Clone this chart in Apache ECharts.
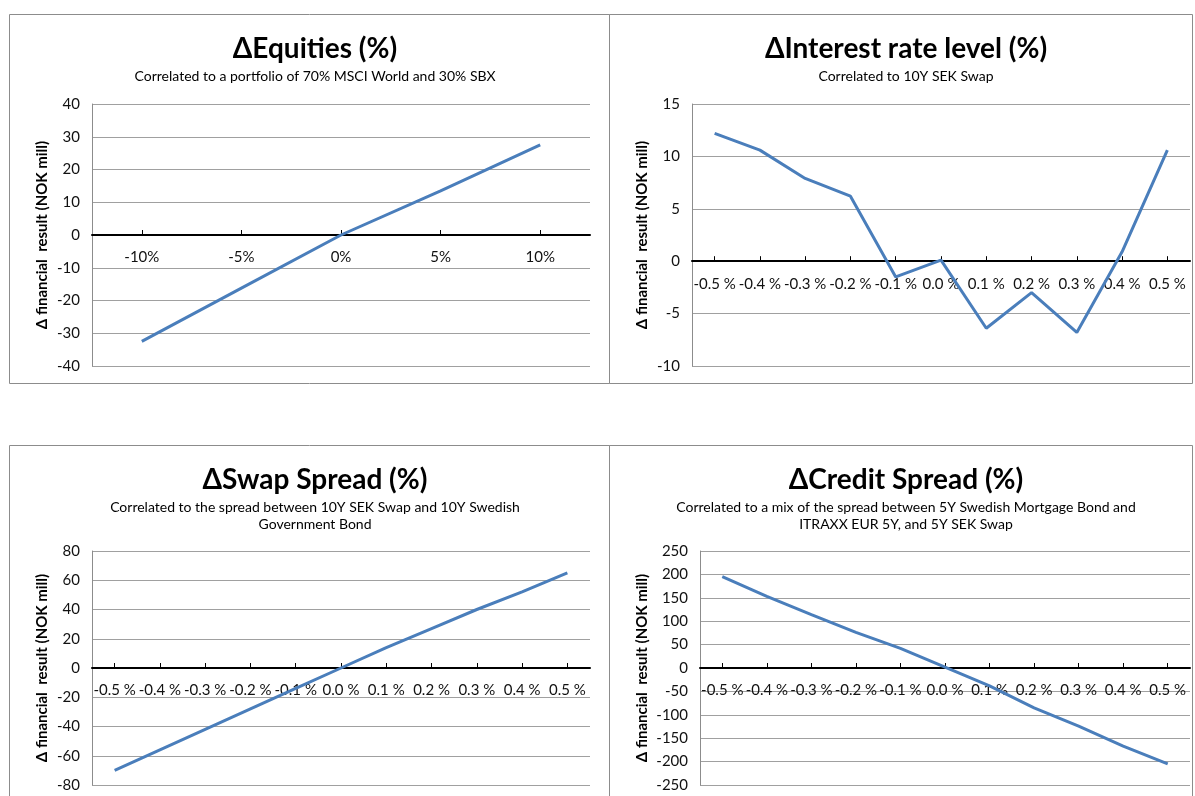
<!DOCTYPE html>
<html><head><meta charset="utf-8">
<script src="https://cdn.jsdelivr.net/npm/echarts@6/dist/echarts.min.js"></script>
<style>html,body{margin:0;padding:0;background:#fff}#c{width:1195px;height:796px}</style>
</head><body><div id="c"></div>
<script>
const equityCats = ['-10%', '-5%', '0%', '5%', '10%'];
const equityVals = [-32.5, -16.2, 0, 13.5, 27.5];

const bpCats = ['-0.5 %', '-0.4 %', '-0.3 %', '-0.2 %', '-0.1 %', '0.0 %', '0.1 %', '0.2 %', '0.3 %', '0.4 %', '0.5 %'];
const rateVals = [12.2, 10.6, 7.9, 6.2, -1.5, 0.1, -6.4, -3.0, -6.8, 0.9, 10.6];
const swapVals = [-70, -56, -42, -28, -14, 0, 14, 27, 40, 52, 65];
const creditVals = [195, 153, 114, 76, 42, 2, -38, -85, -124, -167, -205];

const titles = ['\u0394Equities (%)', '\u0394Interest rate level (%)', '\u0394Swap Spread (%)', '\u0394Credit Spread (%)'];
const subtitles = [
  'Correlated to a portfolio of 70% MSCI World and 30% SBX',
  'Correlated to 10Y SEK Swap',
  'Correlated to the spread between 10Y SEK Swap and 10Y Swedish\nGovernment Bond',
  'Correlated to a mix of the spread between 5Y Swedish Mortgage Bond and\nITRAXX EUR 5Y, and 5Y SEK Swap'
];
const yName = '\u0394 financial  result (NOK mill)';

const FONT = 'Lato';
const grids = [
  {left: 92, top: 104, width: 498, height: 262},
  {left: 692, top: 104, width: 498, height: 262},
  {left: 92, top: 551, width: 498, height: 234},
  {left: 700, top: 551, width: 490, height: 234}
];
const yRanges = [[-40, 40, 10], [-10, 15, 5], [-80, 80, 20], [-250, 250, 50]];
const cats = [equityCats, bpCats, bpCats, bpCats];
const vals = [equityVals, rateVals, swapVals, creditVals];
const titlePos = [[310, 30], [901, 30], [310, 461], [901, 461]];
const nameGaps = [42, 42, 42, 50];

const option = {
  backgroundColor: '#fff',
  animation: false,
  graphic: [
    {type: 'rect', shape: {x: 9.5, y: 14.5, width: 600, height: 369}, style: {fill: 'none', stroke: '#8c8c8c', lineWidth: 1}},
    {type: 'rect', shape: {x: 609.5, y: 14.5, width: 583, height: 369}, style: {fill: 'none', stroke: '#8c8c8c', lineWidth: 1}},
    {type: 'rect', shape: {x: 9.5, y: 445.5, width: 600, height: 400}, style: {fill: 'none', stroke: '#8c8c8c', lineWidth: 1}},
    {type: 'rect', shape: {x: 609.5, y: 445.5, width: 583, height: 400}, style: {fill: 'none', stroke: '#8c8c8c', lineWidth: 1}}
  ],
  title: titles.map((t, i) => ({
    text: t,
    subtext: subtitles[i],
    left: titlePos[i][0],
    top: titlePos[i][1],
    textAlign: 'center',
    itemGap: 5,
    textStyle: {fontFamily: FONT, fontWeight: 'bold', fontSize: 28, color: '#000'},
    subtextStyle: {fontFamily: FONT, fontSize: 14, color: '#000', lineHeight: 17, align: 'center'}
  })),
  grid: grids.map(g => Object.assign({containLabel: false}, g)),
  xAxis: cats.map((c, i) => ({
    type: 'category',
    gridIndex: i,
    data: c,
    boundaryGap: true,
    offset: -grids[i].height * (0 - yRanges[i][0]) / (yRanges[i][1] - yRanges[i][0]),
    axisLine: {onZero: false, lineStyle: {color: '#000', width: 2}},
    axisTick: {show: true, inside: true, length: 5, alignWithLabel: true, lineStyle: {color: '#000', width: 1}},
    axisLabel: {fontFamily: FONT, fontSize: 15, color: '#111', margin: 15, interval: 0},
    splitLine: {show: false}
  })),
  yAxis: yRanges.map((r, i) => ({
    type: 'value',
    gridIndex: i,
    min: r[0], max: r[1], interval: r[2],
    name: yName,
    nameLocation: 'middle',
    nameRotate: 90,
    nameGap: nameGaps[i],
    nameTextStyle: {fontFamily: FONT, fontWeight: 'bold', fontSize: 15, color: '#000'},
    axisLine: {show: true, lineStyle: {color: '#8c8c8c', width: 1}},
    axisTick: {show: false},
    axisLabel: {fontFamily: FONT, fontSize: 15, color: '#111', margin: 12},
    splitLine: {show: true, lineStyle: {color: '#a0a0a0', width: 1}}
  })),
  series: vals.map((v, i) => ({
    type: 'line',
    xAxisIndex: i,
    yAxisIndex: i,
    data: v,
    symbol: 'none',
    lineStyle: {color: '#4a7ebb', width: 3},
    z: 3
  }))
};
const chart = echarts.init(document.getElementById('c'), null, {renderer: 'canvas'});
chart.setOption(option);
</script></body></html>
